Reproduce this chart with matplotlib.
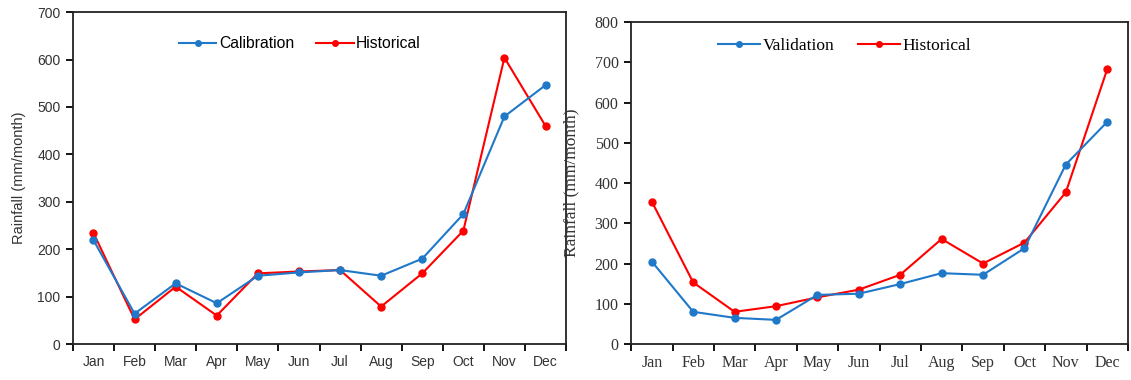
import matplotlib
matplotlib.use("Agg")
import matplotlib.pyplot as plt
from matplotlib.lines import Line2D

months = ["Jan", "Feb", "Mar", "Apr", "May", "Jun",
          "Jul", "Aug", "Sep", "Oct", "Nov", "Dec"]

# Calibration period (mm/month)
calibration = [219, 64, 128, 86, 144, 151, 156, 144, 180, 274, 480, 546]
hist_calib = [234, 52, 121, 60, 149, 153, 156, 79, 149, 239, 604, 460]

# Validation period (mm/month)
validation = [205, 80, 65, 60, 122, 125, 149, 176, 172, 238, 446, 552]
hist_valid = [354, 153, 80, 94, 116, 135, 172, 261, 200, 252, 377, 683]

BLUE = "#1f78c8"
RED = "#ff0000"
TEXT = "#333333"

fig = plt.figure(figsize=(11.31, 3.80), dpi=100)
ax1 = fig.add_axes([0.0645, 0.0947, 0.436, 0.8733])
ax2 = fig.add_axes([0.558, 0.0947, 0.4393, 0.8473])


def draw_panel(ax, s1, s2, name1, ymax, family, tick_fs, lab_fs, leg_fs, leg_anchor):
    x = list(range(len(months)))
    ax.plot(x, s1, color=BLUE, lw=1.5, marker="o", ms=5, label=name1, zorder=3)
    ax.plot(x, s2, color=RED, lw=1.5, marker="o", ms=5, label="Historical", zorder=2)
    ax.set_xlim(-0.5, len(months) - 0.5)
    ax.set_ylim(0, ymax)
    ax.set_yticks(range(0, ymax + 1, 100))
    # boundary ticks between months, labels centred on each month
    ax.set_xticks([i - 0.5 for i in range(len(months) + 1)])
    ax.set_xticklabels([])
    ax.set_xticks(x, minor=True)
    ax.set_xticklabels(months, minor=True, family=family, fontsize=tick_fs, color=TEXT)
    ax.tick_params(axis="x", which="major", direction="out", length=5, width=1.3)
    ax.tick_params(axis="x", which="minor", length=0, pad=8)
    ax.tick_params(axis="y", direction="out", length=5, width=1.3, pad=4)
    for lab in ax.get_yticklabels():
        lab.set_family(family)
        lab.set_fontsize(tick_fs)
        lab.set_color(TEXT)
    for sp in ax.spines.values():
        sp.set_linewidth(1.3)
        sp.set_color("#222222")
    ax.set_ylabel("Rainfall (mm/month)", family=family, fontsize=lab_fs, color=TEXT)
    handles = [
        Line2D([], [], color=BLUE, lw=1.5, marker="o", ms=4),
        Line2D([], [], color=RED, lw=1.5, marker="o", ms=4),
    ]
    ax.legend(handles, [name1, "Historical"], loc="center", bbox_to_anchor=leg_anchor,
              ncol=2, frameon=False, handlelength=2.4, handletextpad=0.15,
              columnspacing=1.4, prop={"family": family, "size": leg_fs})


draw_panel(ax1, calibration, hist_calib, "Calibration", 700,
           "Liberation Sans", 10, 10.5, 11.3, (0.46, 0.905))
ax1.yaxis.set_label_coords(-0.095, 0.5)
draw_panel(ax2, validation, hist_valid, "Validation", 800,
           "Liberation Serif", 11.5, 12.5, 12.5, (0.43, 0.925))
ax2.yaxis.set_label_coords(-0.105, 0.5)

fig.savefig("out.png", dpi=100)
